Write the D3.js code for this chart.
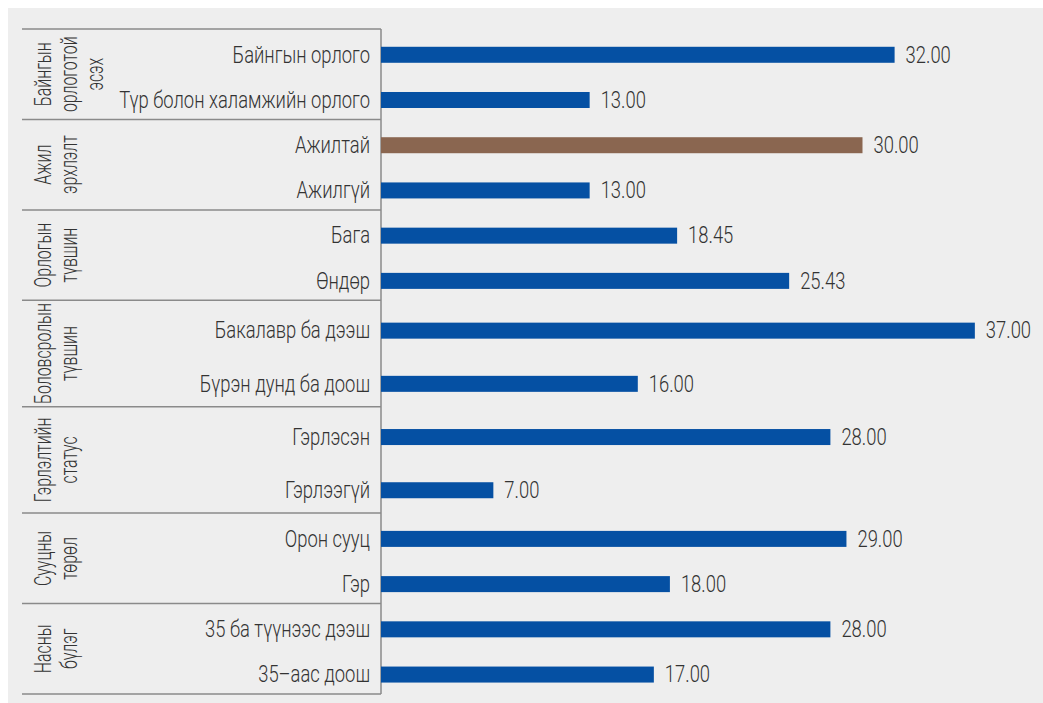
<!DOCTYPE html>
<html>
<head>
<meta charset="utf-8">
<script src="https://cdn.jsdelivr.net/npm/d3@7/dist/d3.min.js"></script>
<style>
  html, body { margin: 0; padding: 0; background: #ffffff; }
  svg { display: block; font-family: Roboto, "Liberation Sans", sans-serif; font-weight: 300; }
</style>
</head>
<body>
<svg id="chart" width="1043" height="703"></svg>
<script>
// Group headings (each entry is the wrapped lines of one rotated heading)
const groupLines = [
  ["Байнгын", "орлоготой", "эсэх"],
  ["Ажил", "эрхлэлт"],
  ["Орлогын", "түвшин"],
  ["Боловсролын", "түвшин"],
  ["Гэрлэлтийн", "статус"],
  ["Сууцны", "төрөл"],
  ["Насны", "бүлэг"]
];

const categories = [
  "Байнгын орлого", "Түр болон халамжийн орлого",
  "Ажилтай", "Ажилгүй",
  "Бага", "Өндөр",
  "Бакалавр ба дээш", "Бүрэн дунд ба доош",
  "Гэрлэсэн", "Гэрлээгүй",
  "Орон сууц", "Гэр",
  "35 ба түүнээс дээш", "35–аас доош"
];

const categoryGroup = [0, 0, 1, 1, 2, 2, 3, 3, 4, 4, 5, 5, 6, 6];

const values = [32.00, 13.00, 30.00, 13.00, 18.45, 25.43, 37.00, 16.00, 28.00, 7.00, 29.00, 18.00, 28.00, 17.00];

const highlighted = ["Ажилтай"];

const xDomain = [0, 40];

// ---- layout ----
const W = 1043, H = 703;
const frame = { top: 29, bottom: 694, left: 22, axis: 381, right: 1023 };
const fontSize = 23;
const squeeze = 0.8;            // horizontal compression for the tall, narrow lettering
const headingSqueeze = 0.69;    // rotated headings are set a little tighter
const longHeading = 10;         // headings with a line this long need a taller block
const textColor = "#333333";
const lineColor = "#8a8a8a";
const barColor = "#0550a3";
const highlightColor = "#8a6650";
const barHeight = 16;

const svg = d3.select("#chart");

svg.append("rect")
  .attr("x", 8).attr("y", 8)
  .attr("width", W - 8).attr("height", H - 8)
  .attr("fill", "#eeeeee");

const x = d3.scaleLinear().domain(xDomain).range([frame.axis, frame.right]);

// Text helper: places a label at (px, py), optionally rotated, squeezed along its run
function label(sel, px, py, rot, sq = squeeze) {
  return sel
    .attr("x", 0).attr("y", 0)
    .attr("transform", (d, i) => {
      const X = typeof px === "function" ? px(d, i) : px;
      const Y = typeof py === "function" ? py(d, i) : py;
      return `translate(${X},${Y})` + (rot ? ` rotate(${rot})` : "") + ` scale(${sq},1)`;
    })
    .attr("dominant-baseline", "central")
    .style("font-size", fontSize + "px")
    .attr("fill", textColor);
}

// Groups with a long rotated heading get a taller block than the standard ones
const weights = groupLines.map(lines => d3.max(lines, l => l.length) >= longHeading ? 1 : 0.85);
const cum = Array.from(d3.cumsum(weights));
const yGroup = d3.scaleLinear().domain([0, d3.sum(weights)]).range([frame.top, frame.bottom]);

const groups = groupLines.map((lines, i) => {
  const y0 = yGroup(cum[i] - weights[i]);
  const y1 = yGroup(cum[i]);
  const h = y1 - y0;
  const cats = categories.filter((c, j) => categoryGroup[j] === i);
  const band = d3.scaleBand().domain(cats).range([y0 + 0.035 * h, y1 + 0.035 * h]);
  return { lines, y0, y1, band };
});

const rows = categories.map((c, j) => {
  const g = groups[categoryGroup[j]];
  return { name: c, value: values[j], cy: g.band(c) + g.band.bandwidth() / 2 };
});

// ---- frame lines ----
const boundaries = [frame.top].concat(groups.map(g => g.y1));
svg.append("g").selectAll("line").data(boundaries).join("line")
  .attr("x1", frame.left).attr("x2", frame.axis)
  .attr("y1", d => d).attr("y2", d => d)
  .attr("stroke", lineColor).attr("stroke-width", 1.5);

svg.append("line")
  .attr("x1", frame.axis).attr("x2", frame.axis)
  .attr("y1", frame.top).attr("y2", frame.bottom)
  .attr("stroke", lineColor).attr("stroke-width", 1.5);

// ---- bars ----
svg.append("g").selectAll("rect").data(rows).join("rect")
  .attr("x", x(0))
  .attr("y", d => d.cy - barHeight / 2)
  .attr("width", d => x(d.value) - x(0))
  .attr("height", barHeight)
  .attr("fill", d => highlighted.includes(d.name) ? highlightColor : barColor);

// ---- value labels ----
const fmt = d3.format(".2f");
svg.append("g").selectAll("text").data(rows).join("text")
  .call(label, d => x(d.value) + 11, d => d.cy)
  .text(d => fmt(d.value));

// ---- category labels ----
svg.append("g").selectAll("text").data(rows).join("text")
  .call(label, frame.axis - 11, d => d.cy)
  .attr("text-anchor", "end")
  .text(d => d.name);

// ---- rotated group headings ----
const heading = svg.append("g");
groups.forEach(g => {
  const cy = (g.y0 + g.y1) / 2;
  heading.selectAll(null).data(g.lines).join("text")
    .call(label, (d, i) => 43 + 26 * i, cy, -90, headingSqueeze)
    .attr("text-anchor", "middle")
    .text(d => d);
});
</script>
</body>
</html>
